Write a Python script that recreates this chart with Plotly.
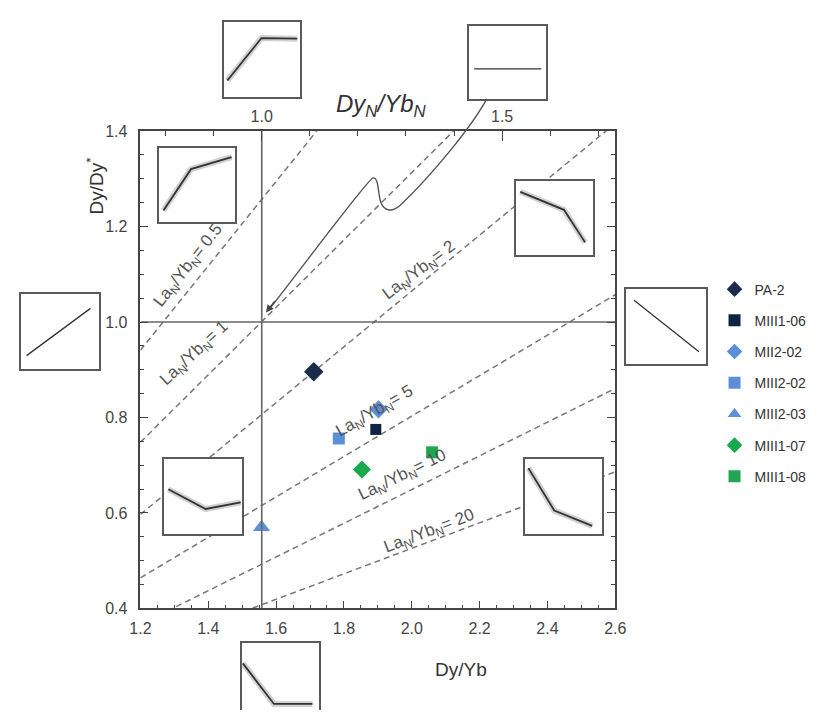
import plotly.graph_objects as go

W, H = 817, 719

# ---------------- data ----------------
samples = ["PA-2", "MIII1-06", "MII2-02", "MIII2-02", "MIII2-03", "MIII1-07", "MIII1-08"]
dy_yb = [1.711, 1.894, 1.902, 1.785, 1.557, 1.853, 2.060]
dy_dystar = [0.896, 0.775, 0.817, 0.756, 0.570, 0.691, 0.727]
symbols = ["diamond", "square", "diamond", "square", "triangle-up", "diamond", "square"]
colors = ["#1b2b4b", "#0f2342", "#5b8fd8", "#5b8fd8", "#5b8fd8", "#1aa84c", "#1fa650"]
sizes = [15, 11, 14, 12, 15, 14, 12]

# La_N/Yb_N guide lines: Dy/Dy* read at Dy/Yb = 1.2 and 2.6
la_yb_values = ["0.5", "1", "2", "5", "10", "20"]
guide_x = [1.2, 2.6]
guide_y_start = [0.9408, 0.7482, 0.597, 0.4642, 0.3666, 0.3124]
guide_y_end = [2.178, 1.7366, 1.416, 1.0571, 0.8608, 0.6862]
label_x = [1.343, 1.360, 2.023, 1.892, 1.972, 2.052]
label_y = [1.117, 0.933, 1.106, 0.812, 0.678, 0.560]
label_angle = [-52, -43, -37, -30, -26, -21]

# reference lines
flat_dyn_ybn = 1.0
flat_dydystar = 1.0

# axis ranges
x_range = [1.2, 2.6]
y_range = [0.4, 1.4]
top_range = [0.7476, 1.7354]

# small REE-pattern insets: box (page px) and pattern points (fractions of box)
inset_boxes = [
    (219.0, 14.0, 297.5, 91.0),
    (471.0, 18.0, 550.0, 93.0),
    (151.7, 143.3, 230.7, 219.3),
    (519.3, 176.7, 598.3, 253.3),
    (10.0, 293.3, 90.0, 370.0),
    (632.0, 288.3, 714.0, 365.0),
    (157.3, 462.0, 237.3, 539.0),
    (528.3, 462.0, 607.3, 539.0),
    (237.5, 650.0, 316.7, 728.0),
]
inset_pat_x = [
    [0.042, 0.489, 0.958],
    [0.063, 0.937],
    [0.063, 0.421, 0.949],
    [0.051, 0.620, 0.895],
    [0.075, 0.896],
    [0.101, 0.915],
    [0.055, 0.534, 0.984],
    [0.043, 0.380, 0.873],
    [0.010, 0.413, 0.913],
]
inset_pat_y = [
    [0.217, 0.782, 0.774],
    [0.408, 0.408],
    [0.158, 0.714, 0.876],
    [0.849, 0.608, 0.173],
    [0.182, 0.813],
    [0.857, 0.170],
    [0.598, 0.336, 0.424],
    [0.880, 0.316, 0.111],
    [0.727, 0.195, 0.195],
]
inset_shadow = [True, False, True, True, False, False, True, True, True]

# curved arrow (page px) from the flat-pattern inset to the chondrite point
arrow_path_px = [
    ("M", [(489, 93)]),
    ("C", [(473, 122), (432, 172), (400, 202)]),
    ("C", [(392, 209), (384, 209), (380, 199)]),
    ("C", [(377, 190), (378, 173), (372, 174)]),
    ("C", [(366, 176), (300, 265), (265, 309)]),
]

# ---------------- layout geometry ----------------
PX_L, PX_R, PX_T, PX_B = 133, 621, 126, 615


def fx(p):
    return p / W


def fy(p):
    return (H - p) / H


FONT = "Liberation Sans, Arial, sans-serif"
AX = "#444444"

fig = go.Figure()

# guide lines
for i, lab in enumerate(la_yb_values):
    fig.add_trace(go.Scatter(
        x=guide_x, y=[guide_y_start[i], guide_y_end[i]], mode="lines",
        line=dict(color="#777777", width=1.5, dash="6px,4px"),
        showlegend=False, hoverinfo="skip"))

# horizontal reference line Dy/Dy* = 1
fig.add_trace(go.Scatter(x=x_range, y=[flat_dydystar, flat_dydystar], mode="lines",
                         line=dict(color="#666666", width=1.6), showlegend=False, hoverinfo="skip"))
# vertical reference line Dy_N/Yb_N = 1 (on top axis)
fig.add_trace(go.Scatter(x=[flat_dyn_ybn, flat_dyn_ybn], y=y_range, mode="lines", xaxis="x2", yaxis="y",
                         line=dict(color="#666666", width=1.6), showlegend=False, hoverinfo="skip"))

# samples
for i, s in enumerate(samples):
    fig.add_trace(go.Scatter(
        x=[dy_yb[i]], y=[dy_dystar[i]], mode="markers", name=s, legendgroup=s,
        marker=dict(symbol=symbols[i], color=colors[i], size=sizes[i], line=dict(width=0))))

TICKF = dict(family=FONT, size=16, color=AX)
layout = dict(
    width=W, height=H, margin=dict(l=0, r=0, t=0, b=0),
    paper_bgcolor="white", plot_bgcolor="white",
    font=dict(family=FONT, size=15, color=AX),
    xaxis=dict(domain=[fx(PX_L), fx(PX_R)], range=x_range, anchor="y",
               tick0=1.2, dtick=0.2, tickformat=".1f", ticks="inside", ticklen=8, tickwidth=1.3,
               tickcolor=AX, showline=True, linecolor=AX, linewidth=1.6, mirror=True,
               showgrid=False, zeroline=False, ticklabelstandoff=5,
               minor=dict(dtick=0.05, ticks="inside", ticklen=4, tickcolor=AX, tickwidth=1.1, showgrid=False),
               tickfont=TICKF),
    xaxis2=dict(overlaying="x", side="top", anchor="y", range=top_range,
                tick0=1.0, dtick=0.5, tickformat=".1f", ticks="inside", ticklen=10, tickwidth=1.3,
                tickcolor=AX, showline=False, showgrid=False, zeroline=False, ticklabelstandoff=5,
                minor=dict(dtick=0.1, ticks="inside", ticklen=5, tickcolor=AX, tickwidth=1.1, showgrid=False),
                tickfont=TICKF),
    yaxis=dict(domain=[fy(PX_B), fy(PX_T)], range=y_range, anchor="x",
               tick0=0.4, dtick=0.2, tickformat=".1f", ticks="inside", ticklen=8, tickwidth=1.3,
               tickcolor=AX, showline=True, linecolor=AX, linewidth=1.6, mirror="ticks",
               showgrid=False, zeroline=False, ticklabelstandoff=8,
               minor=dict(dtick=0.05, ticks="inside", ticklen=4, tickcolor=AX, tickwidth=1.1, showgrid=False),
               tickfont=TICKF),
    legend=dict(x=fx(723), y=fy(272), xanchor="left", yanchor="top", tracegroupgap=10,
                itemsizing="constant", font=dict(family=FONT, size=14, color="#333333"),
                bgcolor="rgba(0,0,0,0)"),
    showlegend=True,
)

# inset subplots
for k, (x0, y0, x1, y1) in enumerate(inset_boxes):
    n = k + 3
    xa, ya = f"xaxis{n}", f"yaxis{n}"
    bottom = min(y1, H)
    yr0 = (y1 - bottom) / (y1 - y0)
    partial = y1 > H
    layout[xa] = dict(domain=[fx(x0), fx(x1)], range=[0, 1], anchor=f"y{n}",
                      showline=True, linecolor="#5a5a5a", linewidth=1.6,
                      mirror=not partial, side="top" if partial else "bottom",
                      showticklabels=False, ticks="", showgrid=False, zeroline=False, fixedrange=True)
    layout[ya] = dict(domain=[fy(bottom), fy(y0)], range=[yr0, 1], anchor=f"x{n}",
                      showline=True, linecolor="#5a5a5a", linewidth=1.6, mirror=True,
                      showticklabels=False, ticks="", showgrid=False, zeroline=False, fixedrange=True)
    if inset_shadow[k]:
        fig.add_trace(go.Scatter(x=inset_pat_x[k], y=inset_pat_y[k], mode="lines",
                                 xaxis=f"x{n}", yaxis=f"y{n}",
                                 line=dict(color="rgba(0,0,0,0.18)", width=6),
                                 showlegend=False, hoverinfo="skip"))
    fig.add_trace(go.Scatter(x=inset_pat_x[k], y=inset_pat_y[k], mode="lines",
                             xaxis=f"x{n}", yaxis=f"y{n}",
                             line=dict(color="#333333", width=1.8 if inset_shadow[k] else 1.3),
                             showlegend=False, hoverinfo="skip"))

fig.update_layout(**layout)

# curved arrow
path = ""
for cmd, pts in arrow_path_px:
    path += cmd + " " + " ".join(f"{fx(a):.5f},{fy(b):.5f}" for a, b in pts) + " "
fig.add_shape(type="path", path=path.strip(), xref="paper", yref="paper",
              line=dict(color="#555555", width=1.4), layer="above")

annotations = []
annotations.append(dict(x=fx(262), y=fy(312), xref="paper", yref="paper", text="",
                        showarrow=True, arrowhead=2, arrowsize=1.1, arrowwidth=1.4,
                        arrowcolor="#444444", ax=10, ay=-13))

# guide line labels
for i, lab in enumerate(la_yb_values):
    annotations.append(dict(x=label_x[i], y=label_y[i], xref="x", yref="y",
                            xanchor="center", yanchor="middle",
                            text=f"La<sub>N</sub>/Yb<sub>N</sub>= {lab}", showarrow=False,
                            textangle=label_angle[i], font=dict(family=FONT, size=17, color="#555555")))

# axis titles
annotations.append(dict(x=fx(462), y=fy(678), xref="paper", yref="paper", text="Dy/Yb",
                        xanchor="center", yanchor="middle",
                        showarrow=False, font=dict(family=FONT, size=19, color="#333333")))
annotations.append(dict(x=fx(86), y=fy(182), xref="paper", yref="paper", text="Dy/Dy<sup>*</sup>",
                        xanchor="center", yanchor="middle",
                        showarrow=False, textangle=-90, font=dict(family=FONT, size=19, color="#333333")))
annotations.append(dict(x=fx(381), y=fy(100), xref="paper", yref="paper",
                        xanchor="center", yanchor="middle",
                        text="<i>Dy<sub>N</sub>/Yb<sub>N</sub></i>",
                        showarrow=False, font=dict(family=FONT, size=24, color="#333333")))

fig.update_layout(annotations=annotations)

fig.write_html("out.html")
